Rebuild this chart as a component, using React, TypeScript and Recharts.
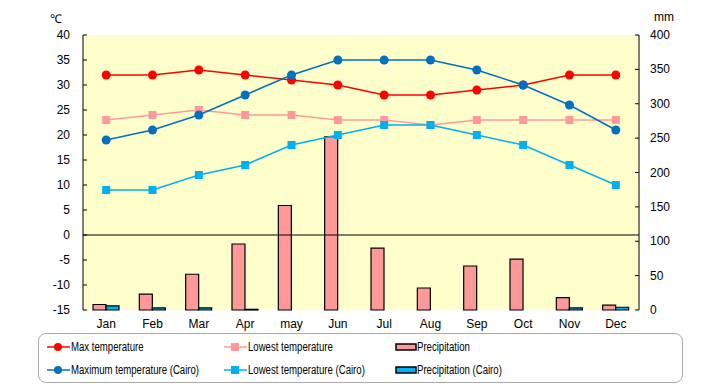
import React from "react";
import {
  ComposedChart,
  Line,
  Bar,
  XAxis,
  YAxis,
  ReferenceLine,
} from "recharts";

const months = ["Jan", "Feb", "Mar", "Apr", "may", "Jun", "Jul", "Aug", "Sep", "Oct", "Nov", "Dec"];
const maxTemp = [32, 32, 33, 32, 31, 30, 28, 28, 29, 30, 32, 32];
const lowTemp = [23, 24, 25, 24, 24, 23, 23, 22, 23, 23, 23, 23];
const precip = [8, 23, 52, 96, 152, 252, 90, 32, 64, 74, 18, 7];
const maxTempCairo = [19, 21, 24, 28, 32, 35, 35, 35, 33, 30, 26, 21];
const lowTempCairo = [9, 9, 12, 14, 18, 20, 22, 22, 20, 18, 14, 10];
const precipCairo = [6, 3, 3, 1, 0, 0, 0, 0, 0, 0, 3, 4];
const tempTicks = [-15, -10, -5, 0, 5, 10, 15, 20, 25, 30, 35, 40];
const mmTicks = [0, 50, 100, 150, 200, 250, 300, 350, 400];

const data = months.map((m, i) => ({
  month: m,
  maxTemp: maxTemp[i],
  lowTemp: lowTemp[i],
  precip: precip[i],
  maxTempCairo: maxTempCairo[i],
  lowTempCairo: lowTempCairo[i],
  precipCairo: precipCairo[i],
}));

const FONT = "'Liberation Sans', Arial, sans-serif";

const LeftTick = (props: any) => {
  const { y, payload } = props;
  return (
    <g>
      <line x1={83} x2={87} y1={y} y2={y} stroke="#000" />
      <text x={70} y={y} dy={4} textAnchor="end" fontSize={12} fontFamily={FONT} fill="#000">
        {payload.value}
      </text>
    </g>
  );
};

const RightTick = (props: any) => {
  const { y, payload } = props;
  return (
    <g>
      <line x1={635} x2={639} y1={y} y2={y} stroke="#000" />
      <text x={650} y={y} dy={4} textAnchor="start" fontSize={12} fontFamily={FONT} fill="#000">
        {payload.value}
      </text>
    </g>
  );
};

const squareDot = (color: string) => (props: any) => {
  const { cx, cy, index } = props;
  return <rect key={index} x={cx - 4} y={cy - 4} width={8} height={8} fill={color} />;
};

const LineIcon = ({ color, square }: { color: string; square?: boolean }) => (
  <svg width={23} height={10} style={{ marginRight: 1 }}>
    <line x1={0} x2={23} y1={5} y2={5} stroke={color} strokeWidth={1.5} />
    {square ? (
      <rect x={7} y={1} width={8} height={8} fill={color} />
    ) : (
      <circle cx={11} cy={5} r={4} fill={color} />
    )}
  </svg>
);

const BarIcon = ({ color }: { color: string }) => (
  <svg width={22} height={10} style={{ marginRight: 0 }}>
    <rect x={1} y={2} width={20} height={6} fill={color} stroke="#000" strokeWidth={1.5} />
  </svg>
);

const legendItems = [
  { label: "Max temperature", icon: <LineIcon color="#FF0000" /> },
  { label: "Lowest temperature", icon: <LineIcon color="#FF9999" square /> },
  { label: "Precipitation", icon: <BarIcon color="#FF9999" /> },
  { label: "Maximum temperature (Cairo)", icon: <LineIcon color="#0070C0" /> },
  { label: "Lowest temperature (Cairo)", icon: <LineIcon color="#00B0F0" square /> },
  { label: "Precipitation (Cairo)", icon: <BarIcon color="#00B0F0" /> },
];

const colX = [47, 224, 395];

export default function App() {
  return (
    <div style={{ position: "absolute", left: 0, top: 0, width: 720, height: 385, background: "#fff", fontFamily: FONT }}>
      <div style={{ position: "absolute", left: 50, top: 10, fontSize: 12 }}>℃</div>
      <div style={{ position: "absolute", left: 654, top: 10, fontSize: 12 }}>mm</div>
      <ComposedChart
        width={720}
        height={345}
        data={data}
        margin={{ top: 35, right: 0, bottom: 15, left: 0 }}
        barGap={0}
        barSize={13}
        style={{ position: "absolute", left: 0, top: 0 }}
      >
        <rect x={83} y={35} width={556} height={275} fill="#FFFFCC" />
        <XAxis
          dataKey="month"
          height={20}
          axisLine={false}
          tickLine={false}
          tick={{ fontSize: 12, fill: "#000", fontFamily: FONT }}
          tickMargin={3}
          interval={0}
        />
        <YAxis
          yAxisId="left"
          width={83}
          domain={[-15, 40]}
          ticks={tempTicks}
          interval={0}
          tickLine={false}
          axisLine={{ stroke: "#000" }}
          tick={<LeftTick />}
        />
        <YAxis
          yAxisId="right"
          orientation="right"
          width={81}
          domain={[0, 400]}
          ticks={mmTicks}
          interval={0}
          tickLine={false}
          axisLine={{ stroke: "#000" }}
          tick={<RightTick />}
        />
        <ReferenceLine yAxisId="left" y={0} stroke="#000" strokeWidth={1.2} />
        <Bar yAxisId="right" dataKey="precip" fill="#FF9999" stroke="#000" strokeWidth={1.2} isAnimationActive={false} />
        <Bar yAxisId="right" dataKey="precipCairo" fill="#00B0F0" stroke="#000" strokeWidth={1.2} isAnimationActive={false} />
        <Line
          yAxisId="left"
          dataKey="lowTemp"
          stroke="#FF9999"
          strokeWidth={1.5}
          dot={squareDot("#FF9999")}
          activeDot={false}
          isAnimationActive={false}
        />
        <Line
          yAxisId="left"
          dataKey="lowTempCairo"
          stroke="#00B0F0"
          strokeWidth={1.5}
          dot={squareDot("#00B0F0")}
          activeDot={false}
          isAnimationActive={false}
        />
        <Line
          yAxisId="left"
          dataKey="maxTemp"
          stroke="#FF0000"
          strokeWidth={1.5}
          dot={{ r: 4.5, fill: "#FF0000", stroke: "none" }}
          activeDot={false}
          isAnimationActive={false}
        />
        <Line
          yAxisId="left"
          dataKey="maxTempCairo"
          stroke="#0070C0"
          strokeWidth={1.5}
          dot={{ r: 4.5, fill: "#0070C0", stroke: "none" }}
          activeDot={false}
          isAnimationActive={false}
        />
      </ComposedChart>
      <div
        style={{
          position: "absolute",
          left: 38,
          top: 333,
          width: 645,
          height: 50,
          border: "1px solid #aaa",
          borderRadius: 8,
          boxSizing: "border-box",
        }}
      />
      {legendItems.map((item, i) => (
        <div
          key={item.label}
          style={{
            position: "absolute",
            left: colX[i % 3],
            top: i < 3 ? 340 : 363,
            display: "flex",
            alignItems: "center",
            fontSize: 12,
            whiteSpace: "nowrap",
          }}
        >
          {item.icon}
          <span style={{ display: "inline-block", transform: "scaleX(0.8)", transformOrigin: "left center" }}>
            {item.label}
          </span>
        </div>
      ))}
    </div>
  );
}
